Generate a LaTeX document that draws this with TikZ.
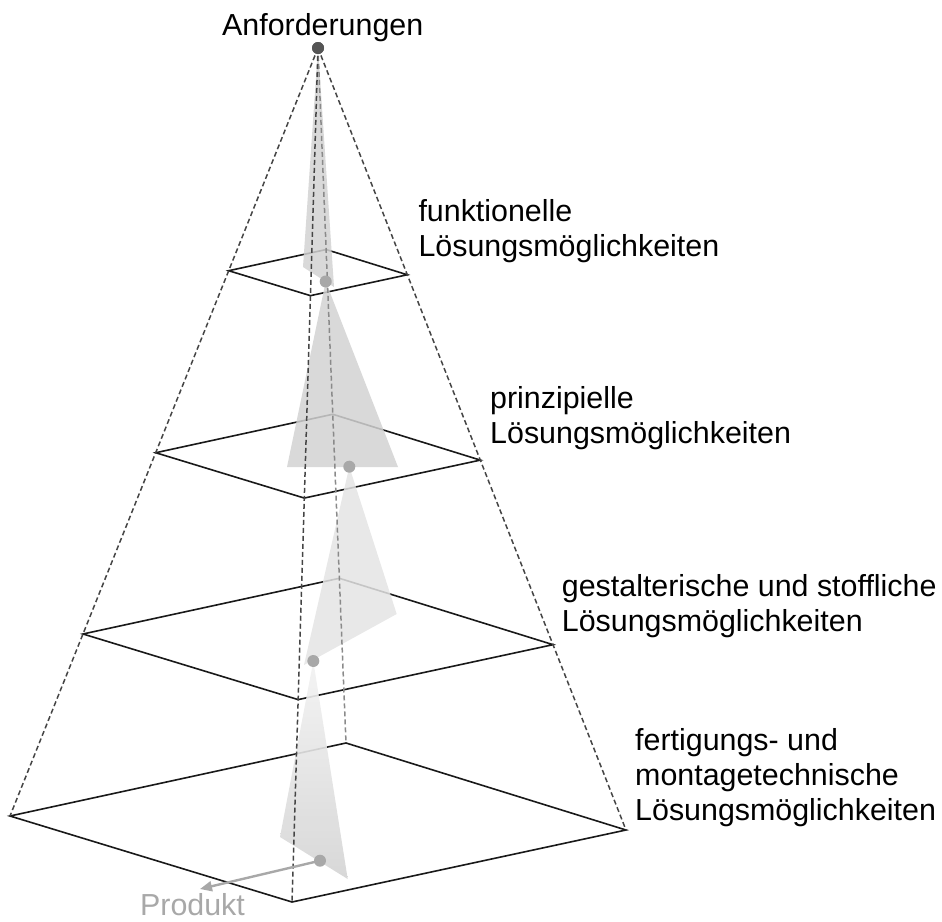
\documentclass[tikz,border=0pt]{standalone}
\usepackage{fontspec}
\setmainfont{Liberation Sans}
\usetikzlibrary{calc,arrows.meta}

\definecolor{edgegray}{HTML}{454545}
\definecolor{backgray}{HTML}{8A8A8A}
\definecolor{conegray}{HTML}{D2D2D2}
\definecolor{conelight}{HTML}{E4E4E4}
\definecolor{dotgray}{HTML}{A8A8A8}
\definecolor{apexgray}{HTML}{555555}

\begin{document}
\begin{tikzpicture}[x=1pt,y=-1pt,
  lbl/.style={font=\fontsize{30.4}{35}\selectfont, align=left, anchor=base west, inner sep=0pt},
  plane/.style={draw=black!90, line width=1.6pt, line join=miter},
  ridge/.style={draw=edgegray, dash pattern=on 5pt off 3pt, line width=1.5pt},
  backridge/.style={draw=backgray, dash pattern=on 5pt off 3pt, line width=1.5pt},
  cone/.style={fill=conegray, fill opacity=0.85},
  conepale/.style={fill=conelight, fill opacity=0.85},
  stagedot/.style={circle, fill=dotgray, inner sep=0pt, minimum size=12pt},
  output/.style={draw=dotgray, line width=2.4pt, -{Triangle[length=12pt,width=10pt]}}
]
\useasboundingbox (0,0) rectangle (942,921);

% apex and base corners of the pyramid
\node[circle, fill=apexgray, inner sep=0pt, minimum size=12pt] (apex) at (318,48) {};
\coordinate (BL) at (10,816);
\coordinate (BB) at (346,743);
\coordinate (BR) at (626,830);
\coordinate (BF) at (292,902);

% corners of the three upper section planes
\foreach \t/\n in {0.29/a, 0.527/b, 0.763/c}{
  \coordinate (\n L) at ($(apex.center)!\t!(BL)$);
  \coordinate (\n B) at ($(apex.center)!\t!(BB)$);
  \coordinate (\n R) at ($(apex.center)!\t!(BR)$);
  \coordinate (\n F) at ($(apex.center)!\t!(BF)$);
}

% section planes
\draw[plane] (aL) -- (aB) -- (aR) -- (aF) -- cycle;
\draw[plane] (bL) -- (bB) -- (bR) -- (bF) -- cycle;
\draw[plane] (cL) -- (cB) -- (cR) -- (cF) -- cycle;
\draw[plane] (BL) -- (BB) -- (BR) -- (BF) -- cycle;

% stage points of the solution path
\coordinate (p1) at (325.7,281.5);
\coordinate (p2) at (349.3,466.7);
\coordinate (p3) at (313.3,661);
\coordinate (p4) at (320,860.7);

% search funnels between the stages
\fill[cone] (apex.center) -- (303,267) -- (334,287) -- cycle;
\fill[cone] (p1) -- (287,467) -- (398,467) -- cycle;
\fill[conepale] (p2) -- (396.7,614) -- (304,665) -- cycle;
\shade[top color=gray!10, bottom color=gray!34, fill opacity=0.9] (p3) -- (280,837) -- (347.7,879) -- cycle;

% pyramid edges
\draw[backridge] (apex.center) -- (BB);
\draw[ridge] (apex.center) -- (BL);
\draw[ridge] (apex.center) -- (BR);
\draw[ridge] (apex.center) -- (BF);

% stage markers
\node[stagedot] (d1) at (p1) {};
\node[stagedot] (d2) at (p2) {};
\node[stagedot] (d3) at (p3) {};
\node[stagedot] (d4) at (p4) {};
\node[circle, fill=apexgray, inner sep=0pt, minimum size=12pt] at (apex) {};

% product output
\coordinate (out) at (200,889);
\draw[output] (d4.center) -- (out);

% labels (anchored at the baseline of their last line)
\node[lbl, anchor=base] (req) at (322.7,35) {Anforderungen};
\node[lbl] (l1) at (418.3,256.7) {funktionelle\\Lösungsmöglichkeiten};
\node[lbl] (l2) at (490,443.3) {prinzipielle\\Lösungsmöglichkeiten};
\node[lbl] (l3) at (561.7,631.7) {gestalterische und stoffliche\\Lösungsmöglichkeiten};
\node[lbl] (l4) at (635,820) {fertigungs- und\\montagetechnische\\Lösungsmöglichkeiten};
\node[lbl, anchor=base, text=dotgray] (prod) at (192.5,915) {Produkt};
\end{tikzpicture}
\end{document}
